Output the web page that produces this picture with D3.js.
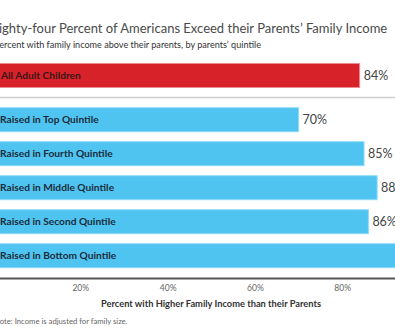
<!DOCTYPE html>
<html>
<head>
<meta charset="utf-8">
<script src="https://cdn.jsdelivr.net/npm/d3@7"></script>
<style>
  html, body { margin: 0; padding: 0; background: #fff; }
  svg { display: block; }
</style>
</head>
<body>
<svg id="chart" width="395" height="330"></svg>
<script>
const title = "Eighty-four Percent of Americans Exceed their Parents\u2019 Family Income";
const subtitle = "Percent with family income above their parents, by parents\u2019 quintile";
const axisTitle = "Percent with Higher Family Income than their Parents";
const note = "Note: Income is adjusted for family size.";

const totalCategory = ["All Adult Children"];
const totalValue = [84];
const categories = ["Raised in Top Quintile", "Raised in Fourth Quintile", "Raised in Middle Quintile", "Raised in Second Quintile", "Raised in Bottom Quintile"];
const values = [70, 85, 88, 86, 93];
const tickValues = [20, 40, 60, 80];

const svg = d3.select("#chart");
const font = "Lato, 'Open Sans', sans-serif";

const x = d3.scaleLinear().domain([0, 100]).range([-7, 429.5]);
const yTotal = d3.scaleBand().domain(totalCategory).range([58.5, 92.5]).paddingInner(10/34).paddingOuter(5/34);
const y = d3.scaleBand().domain(categories).range([102.7, 272.7]).paddingInner(10/34).paddingOuter(5/34);

// Title
svg.append("text").attr("x", -8.5).attr("y", 33)
  .attr("font-family", font).attr("font-size", 13.0).attr("fill", "#4a4a4a")
  .text(title);
svg.append("text").attr("x", -6).attr("y", 47.5)
  .attr("font-family", font).attr("font-size", 9.1).attr("fill", "#333")
  .text(subtitle);

// Total bar
const totalData = totalCategory.map((c, i) => ({c, v: totalValue[i]}));
svg.selectAll(".tbar").data(totalData).enter().append("rect")
  .attr("x", x(0)).attr("y", d => yTotal(d.c))
  .attr("width", d => x(d.v) - x(0)).attr("height", yTotal.bandwidth())
  .attr("fill", "#d8222a").attr("stroke", "#ec8d91").attr("stroke-width", 1);
svg.selectAll(".tlab").data(totalData).enter().append("text")
  .attr("x", 1).attr("y", d => yTotal(d.c) + yTotal.bandwidth()/2 + 3.6)
  .attr("font-family", font).attr("font-weight", "bold").attr("font-size", 10.2)
  .attr("fill", "#3b1518").text(d => d.c);
svg.selectAll(".tval").data(totalData).enter().append("text")
  .attr("x", d => x(d.v) + 4).attr("y", d => yTotal(d.c) + yTotal.bandwidth()/2 + 4.3)
  .attr("font-family", font).attr("font-size", 12.5).attr("fill", "#444")
  .text(d => d.v + "%");

// Separator
svg.append("line").attr("x1", 0).attr("x2", 395).attr("y1", 97.5).attr("y2", 97.5)
  .attr("stroke", "#cfcfcf").attr("stroke-width", 1.5);

// Quintile bars
const data = categories.map((c, i) => ({c, v: values[i]}));
svg.selectAll(".bar").data(data).enter().append("rect")
  .attr("x", x(0)).attr("y", d => y(d.c))
  .attr("width", d => x(d.v) - x(0)).attr("height", y.bandwidth())
  .attr("fill", "#4fc4f0").attr("stroke", "#8fdaf6").attr("stroke-width", 1);
svg.selectAll(".lab").data(data).enter().append("text")
  .attr("x", 0).attr("y", d => y(d.c) + y.bandwidth()/2 + 3.6)
  .attr("font-family", font).attr("font-weight", "bold").attr("font-size", 10.2)
  .attr("fill", "#1b2b3a").text(d => d.c);
svg.selectAll(".val").data(data).enter().append("text")
  .attr("x", d => x(d.v) + 4).attr("y", d => y(d.c) + y.bandwidth()/2 + 4.3)
  .attr("font-family", font).attr("font-size", 12.5).attr("fill", "#444")
  .text(d => d.v + "%");

// Axis
const axis = d3.axisBottom(x).tickValues(tickValues).tickSize(0).tickPadding(7)
  .tickFormat(d => d + "%");
const gAxis = svg.append("g").attr("transform", "translate(0,278)").call(axis);
gAxis.select(".domain").attr("stroke", "#555").attr("stroke-width", 2);
gAxis.selectAll("text").attr("font-family", font).attr("font-size", 8.6).attr("fill", "#666");

svg.append("text").attr("x", 211).attr("y", 306.5).attr("text-anchor", "middle")
  .attr("font-family", font).attr("font-weight", "bold").attr("font-size", 9.3)
  .attr("fill", "#333").text(axisTitle);

svg.append("text").attr("x", -6).attr("y", 323.5)
  .attr("font-family", font).attr("font-size", 7.7).attr("fill", "#666")
  .text(note);
</script>
</body>
</html>
